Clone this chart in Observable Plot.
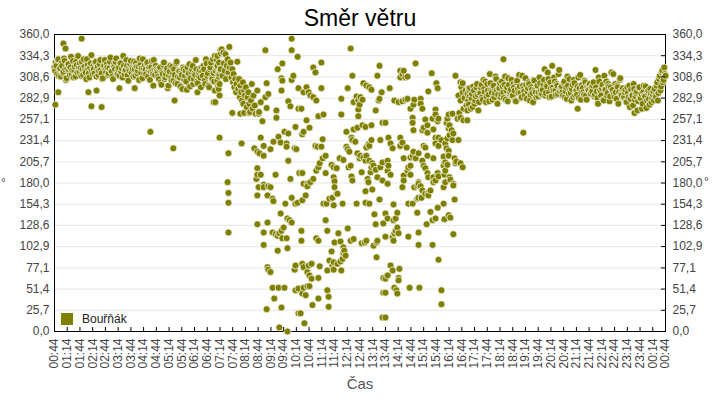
<!DOCTYPE html>
<html>
<head>
<meta charset="utf-8">
<script src="https://cdn.jsdelivr.net/npm/d3@7"></script>
<script src="https://cdn.jsdelivr.net/npm/@observablehq/plot@0.6"></script>
<style>
  body { margin: 0; background: #fff; }
  #wrap { position: relative; width: 720px; height: 400px; font-family: "Liberation Sans", Arial, sans-serif; overflow: hidden; }
  #title { position: absolute; left: 0; top: 0; width: 720px; text-align: center; font-size: 23px; line-height: 37px; color: #000; }
  #chart { position: absolute; left: 0; top: 30px; }
  #xlabel { position: absolute; left: 0; top: 373px; width: 720px; text-align: center; font-size: 15px; line-height: 22px; color: #555; }
  .deg { position: absolute; font-size: 12px; line-height: 14px; color: #444; }
  #legend { position: absolute; left: 61px; top: 313px; font-size: 12px; line-height: 13px; color: #222; }
  #legend span.sw { display: inline-block; width: 12px; height: 12px; background: #808000; vertical-align: top; margin-right: 9px; }
</style>
</head>
<body>
<div id="wrap">
  <div id="title">Směr větru</div>
  <div id="chart"></div>
  <div id="xlabel">Čas</div>
  <div class="deg" style="left:1px;top:176px;">°</div>
  <div class="deg" style="left:704px;top:175px;">°</div>
  <div id="legend"><span class="sw"></span>Bouřňák</div>
</div>
<script>
// ---- Data (time = minutes after 00:44, value = wind direction in degrees) ----
const seriesName = "Bouřňák";

const xTickLabels = ["00:44","01:14","01:44","02:14","02:44","03:14","03:44","04:14","04:44","05:14","05:44","06:14","06:44","07:14","07:44","08:14","08:44","09:14","09:44","10:14","10:44","11:14","11:44","12:14","12:44","13:14","13:44","14:14","14:44","15:14","15:44","16:14","16:44","17:14","17:44","18:14","18:44","19:14","19:44","20:14","20:44","21:14","21:44","22:14","22:44","23:14","23:44","00:14","00:44"];
const xTickStep = 30; // minutes between labelled ticks

const yTickLabels = ["0,0","25,7","51,4","77,1","102,9","128,6","154,3","180,0","205,7","231,4","257,1","282,9","308,6","334,3","360,0"];

// steady night/morning band, two interleaved 3-minute samplings from 00:44
const bandStep = 3;
const bandAStart = 0;
const bandAValues = [
320,326,312,330,318,309,322,315,328,305,319,324,311,333,317,308,321,327,314,319,
325,310,318,330,316,306,323,313,320,335,312,318,326,309,321,316,329,313,307,322,
317,
324,311,319,332,315,306,321,327,313,318,310,325,319,334,312,317,322,304,316,328,
320,309,318,325,313,321,331,314,307,319,323,312,326,317,305,320,315,329,311,318,
314,306,320,299,312,326,308,317,295,310,322,304,313,318,301,327,309,315,297,311,
320,305,316,293,312,324,307,318,300,313,329,303,310,317,296,
315,322,304,330,310,298,318,326,306,313,292,320,334,309,316
];
const bandA2Start = 1.5;
const bandA2Values = [
316,322,329,310,319,325,313,331,318,307,324,316,320,312,328,317,309,323,334,315,
319,327,311,321,314,330,318,308,325,316,322,313,327,319,311,324,317,306,321,329,
314,
320,313,327,316,309,323,318,331,312,320,326,315,308,322,317,329,311,319,324,314,
318,327,310,321,316,305,323,319,330,313,317,325,309,320,315,328,312,318,322,316,
309,318,302,314,323,306,312,319,298,315,307,321,304,311,325,300,316,308,313,294,
318,310,303,320,313,297,315,322,306,311,318,301,314,308,320,
310,318,300,325,313,296,320,308,330,303,316,322,297,312,318
];

// steady evening band, two interleaved 3-minute samplings from about 16:57
const bandBStart = 975;
const bandBValues = [
280,292,270,288,297,276,285,300,268,290,
296,284,305,290,278,300,287,312,293,281,298,289,306,276,295,
301,288,297,283,309,292,279,299,290,305,286,296,280,302,294,311,289,284,298,291,
307,282,295,300,287,293,278,304,290,297,285,308,292,288,
300,318,289,297,306,284,295,322,292,303,287,298,312,291,296,
290,301,284,296,309,288,293,280,299,305,286,292,297,283,311,290,295,287,302,281,294,299,289,296,
298,285,317,291,276,303,289,295,281,310,293,286,300,279,296,292,312,284,290,298,276,305,288,294,283,
290,279,296,284,272,293,286,300,281,289,268,295,283,288,276,298,285,271,290,282,294,278,287,280,
286,298,280,306,292,314,302,320,310
];
const bandB2Start = 973.5;
const bandB2Values = [
288,275,295,283,272,292,280,296,287,278,
289,299,281,294,303,285,292,279,301,290,296,284,309,293,287,
295,284,303,290,299,281,296,307,288,293,285,300,292,279,304,289,297,283,310,294,
286,299,291,302,280,296,289,305,293,284,298,290,301,287,
293,305,286,299,314,290,302,285,296,308,292,300,288,317,295,
297,286,303,291,282,298,306,289,294,284,301,292,287,308,295,281,299,290,304,286,297,292,300,288,
291,302,287,296,283,308,292,286,299,280,294,303,289,297,285,314,293,288,300,282,296,290,307,286,295,
284,293,278,289,298,282,287,274,294,285,291,279,296,283,270,290,286,297,280,292,275,288,283,291,
294,284,302,289,310,297,316,305,312
];

// individual readings (outliers and the gusty daytime period) as [minute, degrees]
const scatterPoints = [
[2,275],[9,290],[21,349],[26,343],[64,355],[80,290],[87,273],[99,292],[111,272],[153,295],[189,295],[226,242],[233,298],[280,222],[283,280],[337,290],[375,278],[378,334],
[379,278],[382,330],[384,304],[384,322],[386,312],[387,294],[388,326],[389,286],[389,300],[391,341],[391,318],[392,337],[394,342],[396,310],[398,338],[399,325],[401,316],[403,336],[404,306],[406,322],[408,330],[410,314],[412,345],[413,320],[415,326],[417,308],[419,318],[419,265],[421,302],[422,312],[424,296],[426,306],[428,290],[429,300],[431,327],[433,294],[435,306],[437,284],[438,298],[438,264],[440,290],[442,280],[444,302],[445,276],[447,292],[447,265],[449,286],[451,296],[453,272],[455,284],[457,290],[459,276],[459,265],[461,266],[463,280],[465,300],[467,270],[469,286],[472,274],[474,264],[478,292],[481,264],[482,266],[486,278],
[559,355],[497,341],[559,341],[573,333],[537,325],[526,318],[563,310],[559,305],[535,307],[537,304],[500,301],[535,292],[575,295],[504,288],[497,284],[551,279],[556,273],[523,268],[523,259],[500,271],[575,270],[490,255],[568,248],[542,242],[551,240],[389,235],[486,235],[528,236],[516,230],[533,229],[547,228],[547,224],[441,228],[471,222],[478,218],[483,216],[493,213],[493,225],[509,221],[566,222],[570,221],[410,216],[551,207],[478,198],[478,190],[476,185],[486,190],[521,190],[556,185],[577,192],[408,181],[493,178],
[410,168],[410,156],[410,120],[481,175],[493,175],[504,176],[509,175],[478,165],[502,165],[514,161],[516,158],[559,162],[544,155],[568,155],[573,156],[533,143],[549,137],[554,135],[559,132],[478,130],[502,132],[540,126],[535,122],[530,119],[493,120],[514,120],[521,118],[526,116],[537,113],[547,113],[493,105],[526,98],[549,101],[502,78],[504,75],[509,72],[568,80],[566,75],[514,53],[528,53],[542,53],[568,50],[575,52],[518,40],[500,27],[535,29],[575,22],[530,5],[549,0],
[698,343],[629,326],[766,322],[610,320],[615,314],[702,310],[761,310],[728,301],[735,298],[742,296],[747,293],[691,295],[594,296],[599,290],[587,290],[603,286],[610,284],[617,280],[629,295],[771,290],[712,285],[721,284],[716,280],[705,278],[726,281],[719,275],[716,269],[676,282],[766,282],[764,280],[582,270],[757,268],[622,261],[634,263],[676,263],[716,261],[773,253],[594,256],[601,247],[587,242],[584,239],[688,242],[705,245],[714,247],[726,250],[733,248],[747,250],[700,235],[702,232],[709,230],[747,232],[740,227],[735,223],[742,225],[768,232],[632,233],[615,225],[620,224],[629,224],[688,224],[691,221],[695,218],[714,216],[721,213],[728,211],[735,213],[719,210],[733,207],[742,207],[749,204],[752,201],[747,199],[745,193],[757,196],[768,199],[773,205],[639,213],[632,210],[625,204],[622,199],[617,195],[672,210],[681,208],[653,202],[658,199],[665,198],[698,201],[693,199],[724,193],[639,192],[584,192],[610,185],[596,179],[658,187],[660,182],[700,188],[702,183],[738,185],[740,181],[761,187],[773,183],
[587,179],[596,176],[603,181],[592,165],[584,159],[660,175],[665,167],[655,162],[648,161],[667,167],[733,170],[749,172],[766,160],[634,155],[641,155],[658,153],[679,155],[712,155],[733,156],[742,155],[754,142],[757,130],[775,131],[639,135],[582,122],[582,110],[643,122],[669,119],[691,125],[617,113],[622,110],[660,108],[674,109],[698,110],[705,112],[724,107],[731,108],[735,110],[752,104],[759,108],[761,110],[653,97],[681,102],[683,98],[681,95],[686,92],[679,88],[674,85],[667,82],[658,84],[648,86],[655,80],[643,74],[759,90],[584,82],[587,78],[599,80],[606,82],[625,79],[676,74],[658,75],[596,72],[601,68],[606,64],[622,65],[775,65],[587,53],[596,55],[601,55],[584,46],[592,44],[643,50],[646,42],[622,40],[775,47],[608,32],[646,30],[580,22],[773,17],[589,10],
[851,325],[815,316],[823,316],[820,312],[815,308],[827,308],[832,309],[889,313],[945,310],[900,301],[903,295],[881,291],[790,295],[957,302],[962,301],[969,292],[952,286],[957,280],[962,290],[966,283],[971,274],[976,295],[978,285],[973,268],[964,270],[954,265],[959,296],[801,280],[811,278],[820,279],[827,281],[832,282],[848,281],[846,275],[839,270],[863,282],[863,276],[867,270],[898,269],[898,263],[938,264],[929,263],[926,258],[924,253],[931,250],[929,246],[936,244],[940,240],[931,238],[938,232],[950,258],[957,259],[964,256],[973,256],[844,259],[844,253],[874,257],[879,250],[870,247],[867,244],[879,241],[891,258],[905,258],[903,255],[780,253],[846,244],[893,245],[952,232],[787,235],[792,228],[797,222],[815,235],[820,229],[815,225],[830,223],[898,235],[905,235],[898,228],[905,225],[912,232],[926,234],[921,228],[924,222],[929,219],[929,213],[846,218],[844,213],[839,211],[851,210],[858,216],[870,225],[874,223],[823,210],[879,213],[893,210],[917,212],[921,205],[926,202],[943,210],[947,206],[945,204],[785,207],[787,201],[785,195],[792,190],[839,201],[834,199],[832,195],[867,207],[870,201],[874,198],[879,192],[881,187],[893,187],[903,192],[905,188],[917,201],[921,195],[919,190],[931,187],[933,184],[823,189],[823,183],[839,190],[858,181],[940,179],[957,204],[962,199],
[785,179],[820,175],[848,175],[855,177],[858,179],[863,176],[867,171],[874,167],[881,168],[886,171],[881,165],[858,162],[855,161],[865,162],[893,181],[898,183],[917,175],[921,181],[940,177],[943,160],[799,154],[834,155],[844,155],[903,150],[917,155],[780,143],[785,137],[808,144],[804,137],[799,135],[855,144],[886,145],[891,135],[898,137],[919,136],[929,141],[933,138],[877,130],[808,126],[804,122],[801,119],[797,114],[799,110],[811,119],[780,115],[834,115],[858,120],[940,118],[858,105],[891,105],[792,80],[797,74],[785,68],[780,64],[813,76],[811,65],[811,62],[905,87],[801,53],[806,50],[808,46],[780,47],[837,53],[860,53],[912,50],[912,33],[780,17],
[1058,330],[1105,241],[1233,270],[1367,265]
];

// ---- Build the table ----
const data = [];
const addBand = (start, values) => values.forEach((v, i) => data.push({t: start + i * bandStep, v}));
addBand(bandAStart, bandAValues);
addBand(bandA2Start, bandA2Values);
addBand(bandBStart, bandBValues);
addBand(bandB2Start, bandB2Values);
scatterPoints.forEach(([t, v]) => data.push({t, v}));
data.sort((a, b) => a.t - b.t);

const xTicks = xTickLabels.map((_, i) => i * xTickStep);
const xLabelOf = new Map(xTicks.map((t, i) => [t, xTickLabels[i]]));
const yTicks = yTickLabels.map(s => parseFloat(s.replace(",", ".")));
const yLabelOf = new Map(yTicks.map((y, i) => [y, yTickLabels[i]]));

const xMax = xTicks[xTicks.length - 1];
const tickLenMin = 4 * xMax / 611;   // 4px expressed in minutes
const tickLenDeg = 4 * 360 / 297;    // 4px expressed in degrees

const chart = Plot.plot({
  width: 720,
  height: 370,
  marginTop: 4,
  marginBottom: 69,
  marginLeft: 54,
  marginRight: 55,
  x: {domain: [0, xMax], label: null},
  y: {domain: [0, 360], label: null},
  style: {fontFamily: "'Liberation Sans', Arial, sans-serif", fontSize: "12px", color: "#444", background: "transparent", overflow: "visible"},
  marks: [
    Plot.gridY(yTicks, {stroke: "#e6e6e6", strokeOpacity: 1}),
    Plot.frame({stroke: "#000", strokeWidth: 1}),
    Plot.dot(data, {x: "t", y: "v", r: 3.5, fill: "#808000", stroke: "#fff", strokeWidth: 0.7}),
    Plot.ruleX(xTicks, {x: d => d, y1: 0, y2: tickLenDeg, stroke: "#000"}),
    Plot.ruleY(yTicks, {y: d => d, x1: xMax - tickLenMin, x2: xMax, stroke: "#000"}),
    Plot.axisX(xTicks, {anchor: "bottom", tickSize: 0, tickPadding: 7, tickRotate: -90, tickFormat: d => xLabelOf.get(d), label: null}),
    Plot.axisY(yTicks, {anchor: "left", tickSize: 0, tickPadding: 5, tickFormat: d => yLabelOf.get(d), label: null}),
    Plot.axisY(yTicks, {anchor: "right", tickSize: 0, tickPadding: 7, tickFormat: d => yLabelOf.get(d), label: null})
  ]
});
document.getElementById("chart").appendChild(chart);
</script>
</body>
</html>
